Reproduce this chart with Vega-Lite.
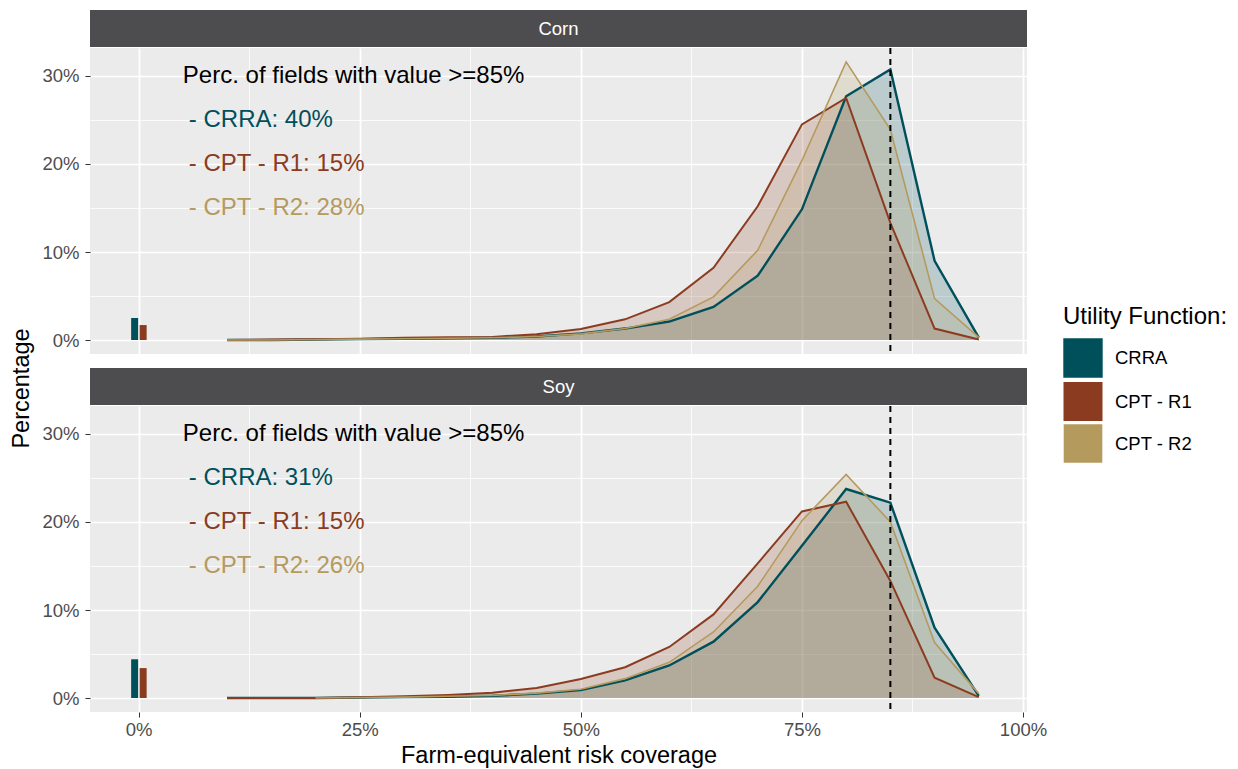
{
  "$schema": "https://vega.github.io/schema/vega-lite/v6.json",
  "padding": {"left": 10, "top": 10, "right": 5, "bottom": 2},
  "background": "white",
  "config": {
    "font": "Liberation Sans",
    "view": {"stroke": null},
    "axis": {"domain": false, "tickColor": "#333333", "tickSize": 5, "labelColor": "#4D4D4D", "labelFontSize": 18.5, "gridColor": "white", "gridWidth": 1.7, "titleFontWeight": "normal", "titleFontSize": 23.5, "titleColor": "black"}
  },
  "title": {"text": "Percentage", "orient": "left", "anchor": "middle", "fontSize": 23.5, "fontWeight": "normal", "color": "black", "offset": 8},
  "datasets": {
    "curves": [
      {"crop":"Corn","utility":"CRRA","coverage":10,"pct":0},
      {"crop":"Corn","utility":"CRRA","coverage":15,"pct":0},
      {"crop":"Corn","utility":"CRRA","coverage":20,"pct":0.05},
      {"crop":"Corn","utility":"CRRA","coverage":25,"pct":0.1},
      {"crop":"Corn","utility":"CRRA","coverage":30,"pct":0.15},
      {"crop":"Corn","utility":"CRRA","coverage":35,"pct":0.2},
      {"crop":"Corn","utility":"CRRA","coverage":40,"pct":0.25},
      {"crop":"Corn","utility":"CRRA","coverage":45,"pct":0.4},
      {"crop":"Corn","utility":"CRRA","coverage":50,"pct":0.75},
      {"crop":"Corn","utility":"CRRA","coverage":55,"pct":1.3},
      {"crop":"Corn","utility":"CRRA","coverage":60,"pct":2.1},
      {"crop":"Corn","utility":"CRRA","coverage":65,"pct":3.75},
      {"crop":"Corn","utility":"CRRA","coverage":70,"pct":7.3},
      {"crop":"Corn","utility":"CRRA","coverage":75,"pct":14.85},
      {"crop":"Corn","utility":"CRRA","coverage":80,"pct":27.7},
      {"crop":"Corn","utility":"CRRA","coverage":85,"pct":30.75},
      {"crop":"Corn","utility":"CRRA","coverage":90,"pct":9.0},
      {"crop":"Corn","utility":"CRRA","coverage":95,"pct":0.27},
      {"crop":"Corn","utility":"CPT - R1","coverage":10,"pct":0},
      {"crop":"Corn","utility":"CPT - R1","coverage":15,"pct":0.05},
      {"crop":"Corn","utility":"CPT - R1","coverage":20,"pct":0.1},
      {"crop":"Corn","utility":"CPT - R1","coverage":25,"pct":0.15},
      {"crop":"Corn","utility":"CPT - R1","coverage":30,"pct":0.25},
      {"crop":"Corn","utility":"CPT - R1","coverage":35,"pct":0.3},
      {"crop":"Corn","utility":"CPT - R1","coverage":40,"pct":0.35},
      {"crop":"Corn","utility":"CPT - R1","coverage":45,"pct":0.65},
      {"crop":"Corn","utility":"CPT - R1","coverage":50,"pct":1.25},
      {"crop":"Corn","utility":"CPT - R1","coverage":55,"pct":2.35},
      {"crop":"Corn","utility":"CPT - R1","coverage":60,"pct":4.3},
      {"crop":"Corn","utility":"CPT - R1","coverage":65,"pct":8.2},
      {"crop":"Corn","utility":"CPT - R1","coverage":70,"pct":15.2},
      {"crop":"Corn","utility":"CPT - R1","coverage":75,"pct":24.5},
      {"crop":"Corn","utility":"CPT - R1","coverage":80,"pct":27.5},
      {"crop":"Corn","utility":"CPT - R1","coverage":85,"pct":13.3},
      {"crop":"Corn","utility":"CPT - R1","coverage":90,"pct":1.3},
      {"crop":"Corn","utility":"CPT - R1","coverage":95,"pct":0.05},
      {"crop":"Corn","utility":"CPT - R2","coverage":10,"pct":0},
      {"crop":"Corn","utility":"CPT - R2","coverage":15,"pct":0},
      {"crop":"Corn","utility":"CPT - R2","coverage":20,"pct":0.05},
      {"crop":"Corn","utility":"CPT - R2","coverage":25,"pct":0.1},
      {"crop":"Corn","utility":"CPT - R2","coverage":30,"pct":0.15},
      {"crop":"Corn","utility":"CPT - R2","coverage":35,"pct":0.2},
      {"crop":"Corn","utility":"CPT - R2","coverage":40,"pct":0.25},
      {"crop":"Corn","utility":"CPT - R2","coverage":45,"pct":0.4},
      {"crop":"Corn","utility":"CPT - R2","coverage":50,"pct":0.7},
      {"crop":"Corn","utility":"CPT - R2","coverage":55,"pct":1.3},
      {"crop":"Corn","utility":"CPT - R2","coverage":60,"pct":2.35},
      {"crop":"Corn","utility":"CPT - R2","coverage":65,"pct":4.9},
      {"crop":"Corn","utility":"CPT - R2","coverage":70,"pct":10.2},
      {"crop":"Corn","utility":"CPT - R2","coverage":75,"pct":20.4},
      {"crop":"Corn","utility":"CPT - R2","coverage":80,"pct":31.6},
      {"crop":"Corn","utility":"CPT - R2","coverage":85,"pct":23.9},
      {"crop":"Corn","utility":"CPT - R2","coverage":90,"pct":4.7},
      {"crop":"Corn","utility":"CPT - R2","coverage":95,"pct":0.3},
      {"crop":"Soy","utility":"CRRA","coverage":10,"pct":0},
      {"crop":"Soy","utility":"CRRA","coverage":15,"pct":0},
      {"crop":"Soy","utility":"CRRA","coverage":20,"pct":0},
      {"crop":"Soy","utility":"CRRA","coverage":25,"pct":0.05},
      {"crop":"Soy","utility":"CRRA","coverage":30,"pct":0.1},
      {"crop":"Soy","utility":"CRRA","coverage":35,"pct":0.15},
      {"crop":"Soy","utility":"CRRA","coverage":40,"pct":0.25},
      {"crop":"Soy","utility":"CRRA","coverage":45,"pct":0.5},
      {"crop":"Soy","utility":"CRRA","coverage":50,"pct":0.9},
      {"crop":"Soy","utility":"CRRA","coverage":55,"pct":2.0},
      {"crop":"Soy","utility":"CRRA","coverage":60,"pct":3.7},
      {"crop":"Soy","utility":"CRRA","coverage":65,"pct":6.4},
      {"crop":"Soy","utility":"CRRA","coverage":70,"pct":10.9},
      {"crop":"Soy","utility":"CRRA","coverage":75,"pct":17.3},
      {"crop":"Soy","utility":"CRRA","coverage":80,"pct":23.75},
      {"crop":"Soy","utility":"CRRA","coverage":85,"pct":22.2},
      {"crop":"Soy","utility":"CRRA","coverage":90,"pct":8.0},
      {"crop":"Soy","utility":"CRRA","coverage":95,"pct":0.25},
      {"crop":"Soy","utility":"CPT - R1","coverage":10,"pct":0},
      {"crop":"Soy","utility":"CPT - R1","coverage":15,"pct":0},
      {"crop":"Soy","utility":"CPT - R1","coverage":20,"pct":0},
      {"crop":"Soy","utility":"CPT - R1","coverage":25,"pct":0.1},
      {"crop":"Soy","utility":"CPT - R1","coverage":30,"pct":0.2},
      {"crop":"Soy","utility":"CPT - R1","coverage":35,"pct":0.35},
      {"crop":"Soy","utility":"CPT - R1","coverage":40,"pct":0.6},
      {"crop":"Soy","utility":"CPT - R1","coverage":45,"pct":1.15},
      {"crop":"Soy","utility":"CPT - R1","coverage":50,"pct":2.15},
      {"crop":"Soy","utility":"CPT - R1","coverage":55,"pct":3.5},
      {"crop":"Soy","utility":"CPT - R1","coverage":60,"pct":5.8},
      {"crop":"Soy","utility":"CPT - R1","coverage":65,"pct":9.5},
      {"crop":"Soy","utility":"CPT - R1","coverage":70,"pct":15.3},
      {"crop":"Soy","utility":"CPT - R1","coverage":75,"pct":21.2},
      {"crop":"Soy","utility":"CPT - R1","coverage":80,"pct":22.3},
      {"crop":"Soy","utility":"CPT - R1","coverage":85,"pct":13.3},
      {"crop":"Soy","utility":"CPT - R1","coverage":90,"pct":2.3},
      {"crop":"Soy","utility":"CPT - R1","coverage":95,"pct":0.1},
      {"crop":"Soy","utility":"CPT - R2","coverage":20,"pct":0},
      {"crop":"Soy","utility":"CPT - R2","coverage":25,"pct":0.05},
      {"crop":"Soy","utility":"CPT - R2","coverage":30,"pct":0.1},
      {"crop":"Soy","utility":"CPT - R2","coverage":35,"pct":0.2},
      {"crop":"Soy","utility":"CPT - R2","coverage":40,"pct":0.3},
      {"crop":"Soy","utility":"CPT - R2","coverage":45,"pct":0.55},
      {"crop":"Soy","utility":"CPT - R2","coverage":50,"pct":1.0},
      {"crop":"Soy","utility":"CPT - R2","coverage":55,"pct":2.2},
      {"crop":"Soy","utility":"CPT - R2","coverage":60,"pct":4.05},
      {"crop":"Soy","utility":"CPT - R2","coverage":65,"pct":7.5},
      {"crop":"Soy","utility":"CPT - R2","coverage":70,"pct":12.7},
      {"crop":"Soy","utility":"CPT - R2","coverage":75,"pct":20.15},
      {"crop":"Soy","utility":"CPT - R2","coverage":80,"pct":25.4},
      {"crop":"Soy","utility":"CPT - R2","coverage":85,"pct":20.0},
      {"crop":"Soy","utility":"CPT - R2","coverage":90,"pct":6.3},
      {"crop":"Soy","utility":"CPT - R2","coverage":95,"pct":0.5}
    ],
    "bars": [
      {"crop":"Corn","utility":"CRRA","coverage":0,"pct":2.5},
      {"crop":"Corn","utility":"CPT - R1","coverage":0,"pct":1.7},
      {"crop":"Soy","utility":"CRRA","coverage":0,"pct":4.4},
      {"crop":"Soy","utility":"CPT - R1","coverage":0,"pct":3.4}
    ],
    "ann": [
      {"crop":"Corn","utility":"","coverage":5,"pct":30,"label":"Perc. of fields with value >=85%"},
      {"crop":"Corn","utility":"CRRA","coverage":5,"pct":25,"label":"- CRRA: 40%"},
      {"crop":"Corn","utility":"CPT - R1","coverage":5,"pct":20,"label":"- CPT - R1: 15%"},
      {"crop":"Corn","utility":"CPT - R2","coverage":5,"pct":15,"label":"- CPT - R2: 28%"},
      {"crop":"Soy","utility":"","coverage":5,"pct":30,"label":"Perc. of fields with value >=85%"},
      {"crop":"Soy","utility":"CRRA","coverage":5,"pct":25,"label":"- CRRA: 31%"},
      {"crop":"Soy","utility":"CPT - R1","coverage":5,"pct":20,"label":"- CPT - R1: 15%"},
      {"crop":"Soy","utility":"CPT - R2","coverage":5,"pct":15,"label":"- CPT - R2: 26%"}
    ]
  },
  "spacing": 13,
  "vconcat": [
    {
      "spacing": 0,
      "vconcat": [
        {
          "width": 937, "height": 37,
          "view": {"fill": "#4D4D50", "stroke": null},
          "data": {"values": [{"crop": "Corn"}]},
          "mark": {"type": "text", "color": "white", "fontSize": 18.5, "baseline": "middle"},
          "encoding": {"text": {"field": "crop"}}
        },
        {
          "width": 937, "height": 306,
          "view": {"fill": "#EBEBEB", "stroke": null},
          "resolve": {"axis": {"x": "independent", "y": "independent"}},
          "layer": [
            {
              "data": {"name": "curves"},
              "transform": [{"filter": "datum.crop === 'Corn'"}],
              "mark": {"type": "area", "fillOpacity": 0.2},
              "encoding": {
                "x": {"field": "coverage", "type": "quantitative", "scale": {"domain": [-5.5, 100.45], "nice": false, "zero": false, "padding": 0},
                      "axis": {"orient": "bottom", "values": [0, 25, 50, 75, 100], "labels": false, "ticks": false, "title": null, "grid": true}},
                "y": {"field": "pct", "type": "quantitative", "stack": null, "scale": {"domain": [-1.59, 33.18], "nice": false, "zero": false},
                      "axis": {"orient": "left", "values": [0, 10, 20, 30], "labelExpr": "datum.value + '%'", "title": null, "grid": true, "labelPadding": 6}},
                "color": {"field": "utility", "type": "nominal",
                          "scale": {"domain": ["CRRA", "CPT - R1", "CPT - R2"], "range": ["#00505B", "#8B3C20", "#B59A5E"]},
                          "legend": {"title": "Utility Function:", "orient": "none", "legendX": 973, "legendY": 295,
                                     "symbolType": "square", "symbolSize": 1369, "symbolStrokeWidth": 0, "symbolOpacity": 1,
                                     "labelFontSize": 18.5, "labelColor": "black", "titleFontSize": 24, "titleFontWeight": "normal", "titleColor": "black",
                                     "rowPadding": -14, "labelOffset": 12, "titlePadding": 9}}
              }
            },
            {
              "data": {"name": "curves"},
              "transform": [{"filter": "datum.crop === 'Corn'"}],
              "mark": {"type": "line"},
              "encoding": {
                "x": {"field": "coverage", "type": "quantitative", "axis": null},
                "y": {"field": "pct", "type": "quantitative", "axis": null},
                "color": {"field": "utility", "type": "nominal"},
                "strokeWidth": {"field": "utility", "type": "nominal", "scale": {"domain": ["CRRA", "CPT - R1", "CPT - R2"], "range": [2.4, 1.6, 2.8]}, "legend": null}
              }
            },
            {
              "data": {"name": "bars"},
              "transform": [{"filter": "datum.crop === 'Corn' && datum.utility === 'CRRA'"}],
              "mark": {"type": "bar", "width": 7, "xOffset": -4},
              "encoding": {
                "x": {"field": "coverage", "type": "quantitative", "axis": null},
                "y": {"field": "pct", "type": "quantitative",
                      "axis": {"orient": "right", "values": [5, 15, 25], "labels": false, "ticks": false, "title": null, "grid": true, "gridWidth": 0.8}},
                "color": {"field": "utility", "type": "nominal"}
              }
            },
            {
              "data": {"name": "bars"},
              "transform": [{"filter": "datum.crop === 'Corn' && datum.utility === 'CPT - R1'"}],
              "mark": {"type": "bar", "width": 7, "xOffset": 4.5},
              "encoding": {
                "x": {"field": "coverage", "type": "quantitative", "axis": null},
                "y": {"field": "pct", "type": "quantitative", "axis": null},
                "color": {"field": "utility", "type": "nominal"}
              }
            },
            {
              "data": {"values": [{"coverage": 85}]},
              "mark": {"type": "rule", "strokeDash": [6, 5], "strokeWidth": 2, "color": "black"},
              "encoding": {
                "x": {"field": "coverage", "type": "quantitative",
                      "axis": {"orient": "top", "values": [12.5, 37.5, 62.5, 87.5], "labels": false, "ticks": false, "title": null, "grid": true, "gridWidth": 0.8}}
              }
            },
            {
              "data": {"name": "ann"},
              "transform": [{"filter": "datum.crop === 'Corn' && datum.utility === ''"}],
              "mark": {"type": "text", "align": "left", "baseline": "middle", "fontSize": 24, "color": "black"},
              "encoding": {
                "x": {"field": "coverage", "type": "quantitative", "axis": null},
                "y": {"field": "pct", "type": "quantitative", "axis": null},
                "text": {"field": "label"}
              }
            },
            {
              "data": {"name": "ann"},
              "transform": [{"filter": "datum.crop === 'Corn' && datum.utility !== ''"}],
              "mark": {"type": "text", "align": "left", "baseline": "middle", "fontSize": 24, "dx": 6},
              "encoding": {
                "x": {"field": "coverage", "type": "quantitative", "axis": null},
                "y": {"field": "pct", "type": "quantitative", "axis": null},
                "text": {"field": "label"},
                "color": {"field": "utility", "type": "nominal"}
              }
            }
          ]
        }
      ]
    },
    {
      "spacing": 0,
      "vconcat": [
        {
          "width": 937, "height": 37,
          "view": {"fill": "#4D4D50", "stroke": null},
          "data": {"values": [{"crop": "Soy"}]},
          "mark": {"type": "text", "color": "white", "fontSize": 18.5, "baseline": "middle"},
          "encoding": {"text": {"field": "crop"}}
        },
        {
          "width": 937, "height": 306,
          "view": {"fill": "#EBEBEB", "stroke": null},
          "resolve": {"axis": {"x": "independent", "y": "independent"}},
          "layer": [
            {
              "data": {"name": "curves"},
              "transform": [{"filter": "datum.crop === 'Soy'"}],
              "mark": {"type": "area", "fillOpacity": 0.2},
              "encoding": {
                "x": {"field": "coverage", "type": "quantitative", "scale": {"domain": [-5.5, 100.45], "nice": false, "zero": false, "padding": 0},
                      "axis": {"orient": "bottom", "values": [0, 25, 50, 75, 100], "labelExpr": "datum.value + '%'", "title": "Farm-equivalent risk coverage", "grid": true, "labelPadding": 3, "titlePadding": 5}},
                "y": {"field": "pct", "type": "quantitative", "stack": null, "scale": {"domain": [-1.59, 33.18], "nice": false, "zero": false},
                      "axis": {"orient": "left", "values": [0, 10, 20, 30], "labelExpr": "datum.value + '%'", "title": null, "grid": true, "labelPadding": 6}},
                "color": {"field": "utility", "type": "nominal"}
              }
            },
            {
              "data": {"name": "curves"},
              "transform": [{"filter": "datum.crop === 'Soy'"}],
              "mark": {"type": "line"},
              "encoding": {
                "x": {"field": "coverage", "type": "quantitative", "axis": null},
                "y": {"field": "pct", "type": "quantitative", "axis": null},
                "color": {"field": "utility", "type": "nominal"},
                "strokeWidth": {"field": "utility", "type": "nominal", "scale": {"domain": ["CRRA", "CPT - R1", "CPT - R2"], "range": [2.4, 1.6, 2.8]}, "legend": null}
              }
            },
            {
              "data": {"name": "bars"},
              "transform": [{"filter": "datum.crop === 'Soy' && datum.utility === 'CRRA'"}],
              "mark": {"type": "bar", "width": 7, "xOffset": -4},
              "encoding": {
                "x": {"field": "coverage", "type": "quantitative", "axis": null},
                "y": {"field": "pct", "type": "quantitative",
                      "axis": {"orient": "right", "values": [5, 15, 25], "labels": false, "ticks": false, "title": null, "grid": true, "gridWidth": 0.8}},
                "color": {"field": "utility", "type": "nominal"}
              }
            },
            {
              "data": {"name": "bars"},
              "transform": [{"filter": "datum.crop === 'Soy' && datum.utility === 'CPT - R1'"}],
              "mark": {"type": "bar", "width": 7, "xOffset": 4.5},
              "encoding": {
                "x": {"field": "coverage", "type": "quantitative", "axis": null},
                "y": {"field": "pct", "type": "quantitative", "axis": null},
                "color": {"field": "utility", "type": "nominal"}
              }
            },
            {
              "data": {"values": [{"coverage": 85}]},
              "mark": {"type": "rule", "strokeDash": [6, 5], "strokeWidth": 2, "color": "black"},
              "encoding": {
                "x": {"field": "coverage", "type": "quantitative",
                      "axis": {"orient": "top", "values": [12.5, 37.5, 62.5, 87.5], "labels": false, "ticks": false, "title": null, "grid": true, "gridWidth": 0.8}}
              }
            },
            {
              "data": {"name": "ann"},
              "transform": [{"filter": "datum.crop === 'Soy' && datum.utility === ''"}],
              "mark": {"type": "text", "align": "left", "baseline": "middle", "fontSize": 24, "color": "black"},
              "encoding": {
                "x": {"field": "coverage", "type": "quantitative", "axis": null},
                "y": {"field": "pct", "type": "quantitative", "axis": null},
                "text": {"field": "label"}
              }
            },
            {
              "data": {"name": "ann"},
              "transform": [{"filter": "datum.crop === 'Soy' && datum.utility !== ''"}],
              "mark": {"type": "text", "align": "left", "baseline": "middle", "fontSize": 24, "dx": 6},
              "encoding": {
                "x": {"field": "coverage", "type": "quantitative", "axis": null},
                "y": {"field": "pct", "type": "quantitative", "axis": null},
                "text": {"field": "label"},
                "color": {"field": "utility", "type": "nominal"}
              }
            }
          ]
        }
      ]
    }
  ]
}
